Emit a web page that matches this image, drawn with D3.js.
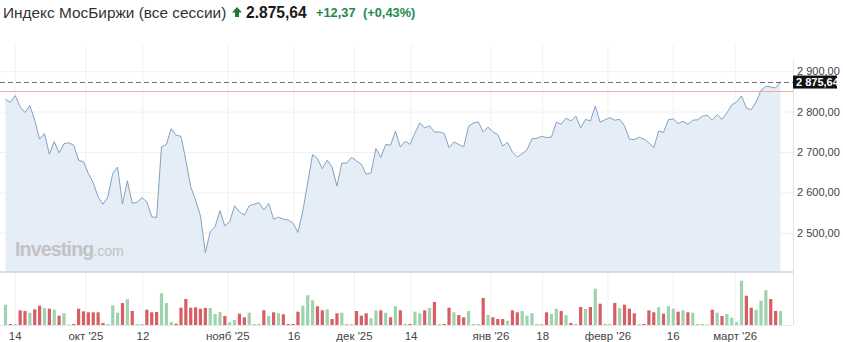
<!DOCTYPE html>
<html><head><meta charset="utf-8">
<script src="https://cdn.jsdelivr.net/npm/d3@7"></script>
<style>
html,body{margin:0;padding:0;background:#fff;}
svg{display:block;font-family:"Liberation Sans",Arial,sans-serif;}
</style></head>
<body><svg id="c" width="843" height="342"></svg>
<script>
// ---- data ----
const title = "Индекс МосБиржи (все сессии)";
const lastPrice = 2875.64;
const change = 12.37;
const changePct = 0.43;
const refLevel = 2851;
const values = [
2832,2824,2841,2813,2799,2816,2780,2733,2747,2696,
2727,2699,2722,2724,2718,2681,2677,2648,2625,2590,
2572,2590,2648,2664,2572,2630,2574,2577,2588,2578,
2541,2539,2714,2720,2759,2743,2740,2681,2615,2582,
2543,2452,2504,2516,2556,2518,2529,2568,2553,2545,
2568,2572,2576,2558,2574,2535,2540,2535,2533,2525,
2502,2555,2625,2695,2685,2660,2681,2664,2617,2674,
2674,2688,2679,2671,2646,2650,2710,2688,2720,2718,
2753,2714,2728,2720,2748,2773,2761,2766,2751,2751,
2747,2712,2726,2720,2714,2765,2773,2776,2751,2763,
2751,2744,2716,2725,2701,2689,2697,2707,2734,2735,
2740,2737,2738,2775,2770,2785,2778,2790,2761,2782,
2778,2815,2775,2781,2786,2780,2782,2766,2733,2732,
2738,2733,2724,2712,2753,2750,2781,2783,2772,2777,
2770,2780,2781,2790,2792,2780,2794,2782,2798,2818,
2825,2840,2810,2806,2825,2854,2864,2862,2860,2875.64
];
const volumes = [
203,10,10,147,140,123,157,193,170,163,
153,93,117,5,10,163,137,127,127,127,
20,10,197,123,220,257,140,10,10,153,
127,130,317,220,30,13,173,260,173,177,
163,170,170,110,130,90,27,50,113,77,
123,10,10,147,90,127,117,107,10,10,
133,193,297,247,187,147,157,60,117,123,
10,10,140,93,117,67,147,147,123,77,
187,147,10,10,133,117,147,170,230,10,
10,173,127,100,77,140,10,10,270,100,
77,60,60,43,147,127,140,93,117,10,
10,127,110,163,140,100,20,10,180,160,
180,363,213,10,10,220,170,203,163,117,
10,10,147,127,177,113,187,163,133,147,
127,123,10,10,5,153,123,90,110,73,
30,443,293,173,153,243,347,260,140,140
];
const tickIndex = [2,16.5,28.2,45.6,59.2,71.6,83.2,99.6,110.2,123.6,137,149.7];
const tickLabels = ["14","окт '25","12","нояб '25","16","дек '25","14","янв '26","18","февр '26","16","март '26"];
const priceTicks = [2500,2600,2700,2800,2900];

// ---- layout ----
const svg = d3.select("#c");
const plotRight = 793, priceBottom = 272, volBottom = 325;
const x = d3.scaleLinear().domain([0, values.length-1]).range([5.5, 780.5]);
const y = d3.scaleLinear().domain([2500, 2900]).range([233.3, 71.7]);
const yv = d3.scaleLinear().domain([0, 450]).range([volBottom, 280]);

const ruLoc = d3.formatLocale({decimal:",", thousands:"\u00a0", grouping:[3], currency:["",""]});
const fAxis = ruLoc.format(",.2f");
const dotLoc = d3.formatLocale({decimal:",", thousands:".", grouping:[3], currency:["",""]});
const fHead = dotLoc.format(",.2f");
const fChg = ruLoc.format("+.2f");

// title
svg.append("text").attr("x", 3).attr("y", 17.5).attr("font-size", 15.4).attr("fill", "#333").text(title);
svg.append("path").attr("d", "M237 7 L242 12.5 L239 12.5 L239 17 L235 17 L235 12.5 L232 12.5 Z").attr("fill", "#1f7a3c");
svg.append("text").attr("x", 246).attr("y", 17.5).attr("font-size", 15.6).attr("font-weight", "bold").attr("fill", "#1a1a1a").text(fHead(lastPrice));
svg.append("text").attr("x", 316).attr("y", 17).attr("font-size", 12.8).attr("font-weight", "bold").attr("fill", "#23894a").text(fChg(change));
svg.append("text").attr("x", 363).attr("y", 17).attr("font-size", 12.8).attr("font-weight", "bold").attr("fill", "#23894a").text("(" + fChg(changePct) + "%)");

// grid
const g = svg.append("g");
g.selectAll(".hg").data(priceTicks).join("line")
  .attr("x1", 0).attr("x2", plotRight).attr("y1", d => y(d)).attr("y2", d => y(d))
  .attr("stroke", "#f1f1f1").attr("stroke-width", 1);
g.selectAll(".vg").data(tickIndex).join("line")
  .attr("x1", d => x(d)).attr("x2", d => x(d)).attr("y1", 45).attr("y2", volBottom + 4)
  .attr("stroke", "#f1f1f1").attr("stroke-width", 1);

// area + line
const area = d3.area().x((d,i) => x(i)).y0(priceBottom).y1(d => y(d));
svg.append("path").datum(values).attr("d", area).attr("fill", "#e5edf6");
const line = d3.line().x((d,i) => x(i)).y(d => y(d));
svg.append("path").datum(values).attr("d", line).attr("fill", "none").attr("stroke", "#84a2c0").attr("stroke-width", 1);

// watermark
const wm = svg.append("text").attr("x", 15).attr("y", 256).attr("fill", "#c3c3c3");
wm.append("tspan").attr("font-size", 19.5).attr("font-weight", "bold").attr("letter-spacing", -0.8).text("Investing");
wm.append("tspan").attr("font-size", 14).text(".com");

// reference lines
const ry = Math.round(y(refLevel)) + 0.5;
svg.append("line").attr("x1", 0).attr("x2", plotRight).attr("y1", ry).attr("y2", ry)
  .attr("stroke", "#ef9f9f").attr("stroke-width", 1).attr("stroke-opacity", 0.85);
const dy = Math.round(y(lastPrice)) + 0.5;
svg.append("line").attr("x1", 0).attr("x2", plotRight).attr("y1", dy).attr("y2", dy)
  .attr("stroke", "#6f6f6f").attr("stroke-width", 1).attr("stroke-dasharray", "5,3");

// axis frame
svg.append("line").attr("x1", plotRight+0.5).attr("x2", plotRight+0.5).attr("y1", 60).attr("y2", volBottom).attr("stroke", "#e3e3e3");
svg.append("line").attr("x1", 0).attr("x2", plotRight).attr("y1", priceBottom).attr("y2", priceBottom).attr("stroke", "#cfd5de").attr("stroke-width", 1.5);
svg.append("line").attr("x1", 0).attr("x2", plotRight).attr("y1", volBottom+0.5).attr("y2", volBottom+0.5).attr("stroke", "#e6e6e6");

// price axis labels
svg.selectAll(".pl").data(priceTicks).join("text")
  .attr("x", 797).attr("y", d => y(d) + 3.5).attr("font-size", 11).attr("fill", "#444").text(d => fAxis(d));
svg.append("rect").attr("x", 793).attr("y", y(lastPrice) - 6).attr("width", 44).attr("height", 13).attr("fill", "#111");
svg.append("text").attr("x", 796).attr("y", y(lastPrice) + 4.5).attr("font-size", 11).attr("font-weight", "bold").attr("fill", "#fff").text(fAxis(lastPrice));

// volume bars
svg.selectAll(".vb").data(volumes).join("rect")
  .attr("x", (d,i) => x(i) - 1.6).attr("width", 3.2)
  .attr("y", d => yv(d)).attr("height", d => volBottom - yv(d))
  .attr("fill", (d,i) => (i === 0 || values[i] >= values[i-1]) ? "#9fd2ae" : "#d65e64");

// x labels
svg.selectAll(".xl").data(tickIndex).join("text")
  .attr("x", d => x(d)).attr("y", 340).attr("text-anchor", "middle")
  .attr("font-size", 11.5).attr("fill", "#444").text((d,i) => tickLabels[i]);
</script></body></html>
